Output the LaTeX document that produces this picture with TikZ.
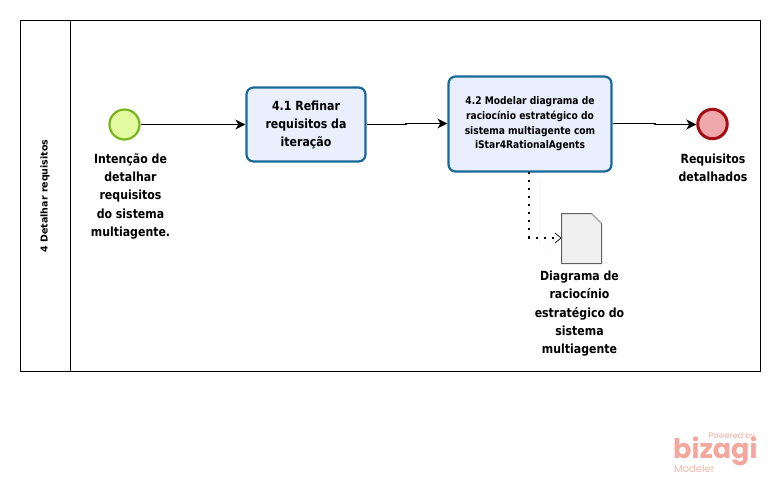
\documentclass[tikz,border=0pt]{standalone}
\usepackage{fontspec}
\setmainfont{DejaVu Sans}
\newfontfamily\logofont{Poppins}
\usetikzlibrary{arrows.meta,calc}
\definecolor{taskfill}{HTML}{E9EFFC}
\definecolor{taskline}{HTML}{17699A}
\definecolor{startfill}{HTML}{E3FBA0}
\definecolor{startline}{HTML}{7AB51D}
\definecolor{endfill}{HTML}{EFA8AA}
\definecolor{endline}{HTML}{A30F12}
\definecolor{logoa}{HTML}{F4A79C}
\definecolor{logob}{HTML}{F6B5A8}
\tikzset{
 x=1pt,y=-1pt,
 lbl/.style={font=\bfseries\fontsize{12.6}{18.2}\selectfont\addfontfeature{FakeStretch=0.87},align=center,text=black,inner sep=0pt},
 task/.style={draw=taskline,line width=2.2pt,fill=taskfill,rounded corners=7pt,align=center,inner sep=0pt,text=black},
 evstart/.style={circle,draw=startline,line width=2.2pt,fill=startfill,minimum size=30pt,inner sep=0pt},
 evend/.style={circle,draw=endline,line width=3pt,fill=endfill,minimum size=29.5pt,inner sep=0pt},
 flow/.style={draw=black,line width=1.1pt,-{Stealth[length=10pt,width=10pt,inset=3pt]}},
 assoc/.style={draw=black,line width=2pt,dash pattern=on 2pt off 6pt},
 assochead/.style={draw=black,line width=.7pt},
}
\begin{document}
\begin{tikzpicture}
\useasboundingbox (0,0) rectangle (780,483);
\node[draw=black,line width=1pt,minimum width=740pt,minimum height=351pt,inner sep=0pt,anchor=north west] (pool) at (20,20) {};
\coordinate (headtop) at (70.5,20);
\coordinate (headbot) at (70.5,371);
\draw[black,line width=1pt] (headtop) -- (headbot);
\node[rotate=90,font=\bfseries\fontsize{9.5}{12}\selectfont,inner sep=0pt] (plabel) at (45,196) {4 Detalhar requisitos};

\node[evstart] (s) at (124.5,124.5) {};
\node[task,minimum width=119pt,minimum height=74pt,font=\bfseries\fontsize{12.6}{18}\selectfont\addfontfeature{FakeStretch=0.87}] (t1) at (306,124.5) {4.1 Refinar\\requisitos da\\iteração};
\node[task,minimum width=163pt,minimum height=95pt,font=\bfseries\fontsize{10.5}{14.6}\selectfont\addfontfeature{FakeStretch=0.87}] (t2) at (530,124) {4.2 Modelar diagrama de\\raciocínio estratégico do\\sistema multiagente com\\iStar4RationalAgents};
\node[evend] (e) at (712.5,124) {};

\node[lbl,anchor=north] (sl) at (130.5,153.5) {Intenção de\\detalhar\\requisitos\\do sistema\\multiagente.};
\node[lbl,anchor=north] (el) at (713,153.5) {Requisitos\\detalhados};

% document
\coordinate (doc) at (561.5,213.5);
\draw[fill=black!6,draw=black!62,line width=1pt] (doc) -- ++(30,0) -- ++(10,10) -- ++(0,40) -- ++(-40,0) -- cycle;
\draw[black!35,line width=.7pt] ($(doc)+(30,0)$) -- ++(10,10);
\coordinate (docin) at (561,238);
\node[lbl,anchor=north] (dl) at (579.5,271) {Diagrama de\\raciocínio\\estratégico do\\sistema\\multiagente};

\draw[flow] (s) -- (t1);
\draw[flow] (t1.east |- 0,124.5) -- (406,124.5) -- (406,123.5) -- (t2.west |- 0,123.5);
\draw[flow] (t2.east |- 0,123.5) -- (655,123.5) -- (655,124.5) -- (e.west |- 0,124.5);

\coordinate (faint1) at (539.5,181);
\coordinate (faint2) at (552,248);
\draw[black!4,line width=.8pt,rounded corners=5pt] (faint1) -- (539.5,248) -- (faint2);
\coordinate (a0) at (529,172);
\coordinate (a1) at (529,237.5);
\coordinate (a2) at (554,237.5);
\draw[assoc] (a0) -- (a1) -- (a2);
\draw[assochead] (555,233) -- (docin) -- (555,243);

% logo
\node[font=\logofont\bfseries\fontsize{27}{27}\selectfont,text=logoa,anchor=base west,inner sep=0pt,text depth=0pt,text height=18pt] (lg) at (673,458) {bizagi};
\node[font=\logofont\fontsize{8}{8}\selectfont,text=logoa,anchor=base east,inner sep=0pt] (lp) at (755.5,438.5) {Powered by};
\node[font=\logofont\fontsize{10}{10}\selectfont,text=logob,anchor=base west,inner sep=0pt] (lm) at (674,472) {Modeler};
\end{tikzpicture}
\end{document}
